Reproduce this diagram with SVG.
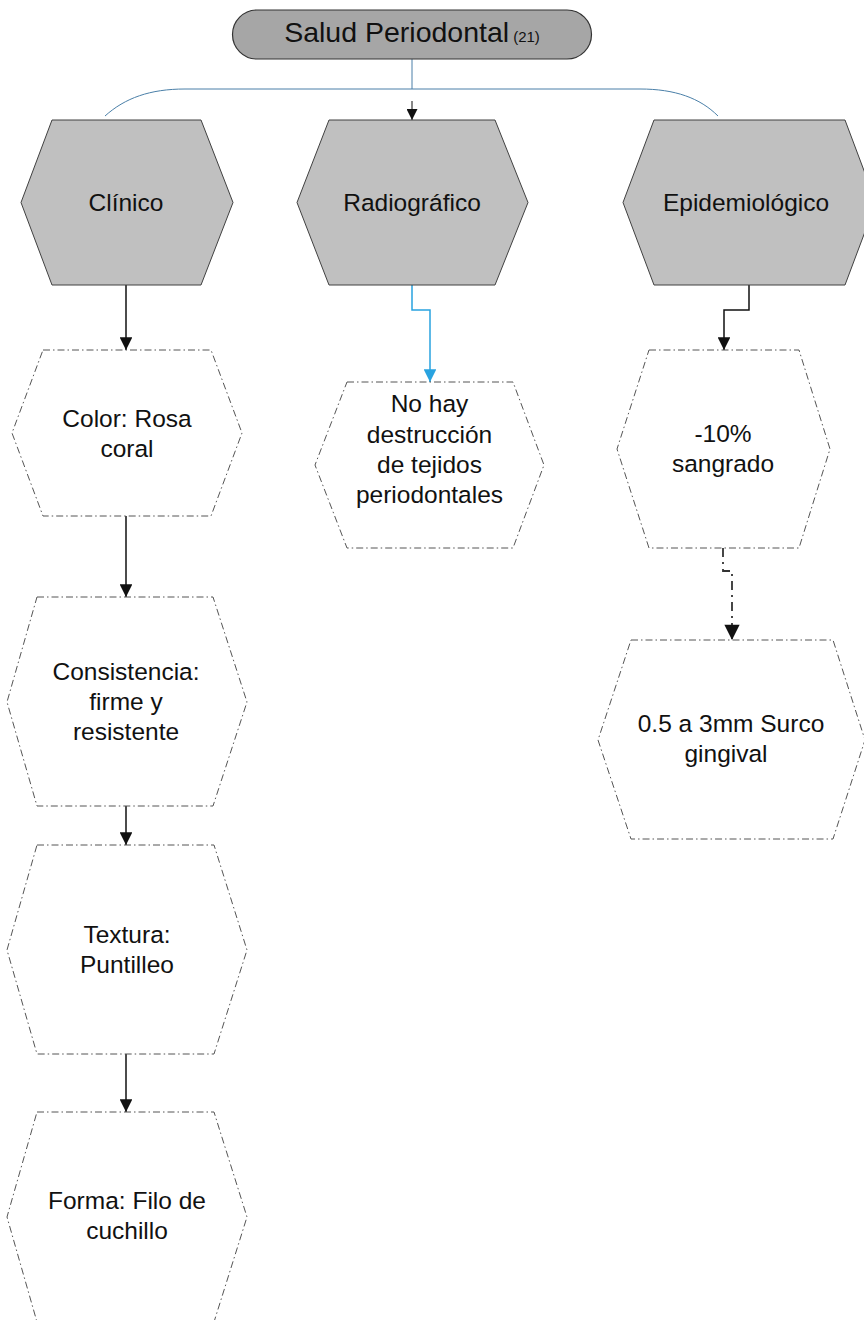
<svg xmlns="http://www.w3.org/2000/svg" width="864" height="1320" viewBox="0 0 864 1320">
  <style>
    .txt { font-family: "Liberation Sans", Arial, sans-serif; font-size: 24.5px; fill: #111; text-anchor: middle; }
    .title { font-size: 28.5px; }
    .main { fill: #c0c0c0; stroke: #404040; stroke-width: 1; }
    .sub { fill: #ffffff; stroke: #555555; stroke-width: 1; stroke-dasharray: 7 3 1.5 3; }
    .pill { fill: #a6a6a6; stroke: #333333; stroke-width: 1.2; }
    .link { fill: none; stroke: #111; stroke-width: 1.5; }
    .blue { fill: none; stroke: #29a3e0; stroke-width: 1.5; }
    .branch { fill: none; stroke: #4a7fa8; stroke-width: 1; }
    .dashed { fill: none; stroke: #333; stroke-width: 1.8; stroke-dasharray: 9 5 2 5; }
  </style>
  <defs>
    <marker id="arrow" viewBox="0 0 10 10" refX="10" refY="5" markerWidth="9.5" markerHeight="8.5" markerUnits="strokeWidth" orient="auto">
      <path d="M0,0 L10,5 L0,10 z" fill="#111"/>
    </marker>
    <marker id="arrowBlue" viewBox="0 0 10 10" refX="10" refY="5" markerWidth="9.5" markerHeight="8.5" markerUnits="strokeWidth" orient="auto">
      <path d="M0,0 L10,5 L0,10 z" fill="#29a3e0"/>
    </marker>
    <marker id="arrowThin" viewBox="0 0 10 10" refX="10" refY="5" markerWidth="12" markerHeight="11" markerUnits="strokeWidth" orient="auto">
      <path d="M0,0 L10,5 L0,10 z" fill="#111"/>
    </marker>
  </defs>

  <!-- connectors -->
  <g id="connectors">
    <path class="branch" d="M412,59 V89"/>
    <path class="branch" d="M105,116 C125,98 150,89 185,89 H640 C675,89 700,98 718,116"/>
    <path class="link" d="M412,101 V120" marker-end="url(#arrowThin)" style="stroke-width:1"/>
    <path class="link" d="M126,285 V350" marker-end="url(#arrow)"/>
    <path class="link" d="M126,516 V597" marker-end="url(#arrow)"/>
    <path class="link" d="M126,806 V845" marker-end="url(#arrow)"/>
    <path class="link" d="M126,1054 V1112" marker-end="url(#arrow)"/>
    <path class="blue" d="M412,285 V310 H430 V382" marker-end="url(#arrowBlue)"/>
    <path class="link" d="M749,285 V310 H724 V350" marker-end="url(#arrow)"/>
    <path class="dashed" d="M723,548 V571 H732 V640" marker-end="url(#arrow)"/>
  </g>

  <!-- root -->
  <g id="node-salud">
    <rect class="pill" x="232.5" y="10" width="359" height="49" rx="24.5"/>
    <text class="txt title" x="412" y="42">Salud Periodontal<tspan dx="4" style="font-size:15px">(21)</tspan></text>
  </g>

  <!-- first level -->
  <g id="node-clinico">
    <polygon class="main" points="52,120 201,120 233,202.5 201,285 52,285 21,202.5"/>
    <text class="txt" x="126" y="211">Clínico</text>
  </g>
  <g id="node-radiografico">
    <polygon class="main" points="329,120 495,120 528,202.5 495,285 329,285 297,202.5"/>
    <text class="txt" x="412" y="211">Radiográfico</text>
  </g>
  <g id="node-epidemiologico">
    <polygon class="main" points="654,120 845,120 876,202.5 845,285 654,285 623,202.5"/>
    <text class="txt" x="746" y="211">Epidemiológico</text>
  </g>

  <!-- clinical chain -->
  <g id="node-color">
    <polygon class="sub" points="43,350 211,350 242,433 211,516 43,516 12,433"/>
    <text class="txt" x="127" y="427">Color: Rosa</text>
    <text class="txt" x="127" y="457">coral</text>
  </g>
  <g id="node-consistencia">
    <polygon class="sub" points="37,597 213,597 247,702 213,806 37,806 7,702"/>
    <text class="txt" x="126" y="680">Consistencia:</text>
    <text class="txt" x="126" y="710">firme y</text>
    <text class="txt" x="126" y="740">resistente</text>
  </g>
  <g id="node-textura">
    <polygon class="sub" points="37,845 214,845 247,950 214,1054 37,1054 7,950"/>
    <text class="txt" x="127" y="943">Textura:</text>
    <text class="txt" x="127" y="973">Puntilleo</text>
  </g>
  <g id="node-forma">
    <polygon class="sub" points="37,1112 214,1112 247,1217 214,1322 37,1322 7,1217"/>
    <text class="txt" x="127" y="1209">Forma: Filo de</text>
    <text class="txt" x="127" y="1239">cuchillo</text>
  </g>

  <!-- radiographic -->
  <g id="node-destruccion">
    <polygon class="sub" points="347,382 513,382 544,465 513,548 347,548 315,465"/>
    <text class="txt" x="429.5" y="412">No hay</text>
    <text class="txt" x="429.5" y="443">destrucción</text>
    <text class="txt" x="429.5" y="473">de tejidos</text>
    <text class="txt" x="429.5" y="503">periodontales</text>
  </g>

  <!-- epidemiological chain -->
  <g id="node-sangrado">
    <polygon class="sub" points="649,350 799,350 830,449 799,548 649,548 617,449"/>
    <text class="txt" x="723" y="442">-10%</text>
    <text class="txt" x="723" y="472">sangrado</text>
  </g>
  <g id="node-surco">
    <polygon class="sub" points="631,640 833,640 865,740 833,839 631,839 598,740"/>
    <text class="txt" x="731" y="732">0.5 a 3mm Surco</text>
    <text class="txt" x="726" y="762">gingival</text>
  </g>
</svg>
